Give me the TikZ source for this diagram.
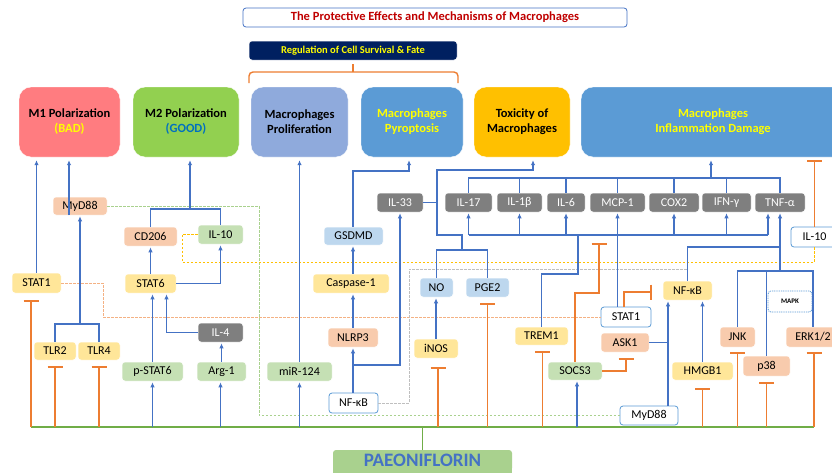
\documentclass[tikz,border=0pt]{standalone}
\usepackage{fontspec}
\setmainfont{Carlito}
\usetikzlibrary{arrows.meta,calc}
\definecolor{cM1}{HTML}{FF7C80}
\definecolor{cM2}{HTML}{92D050}
\definecolor{cPro}{HTML}{8FAADC}
\definecolor{cPyr}{HTML}{5B9BD5}
\definecolor{cTox}{HTML}{FFC000}
\definecolor{cYel}{HTML}{FFE699}
\definecolor{cOra}{HTML}{F8CBAD}
\definecolor{cGrn}{HTML}{C5E0B4}
\definecolor{cLbl}{HTML}{BDD7EE}
\definecolor{cGry}{HTML}{7F7F7F}
\definecolor{cNavy}{HTML}{002060}
\definecolor{cYT}{HTML}{FFFF00}
\definecolor{cGood}{HTML}{0070C0}
\definecolor{cRed}{HTML}{C00000}
\definecolor{cBlue}{HTML}{4472C4}
\definecolor{cBord}{HTML}{5B9BD5}
\definecolor{cOrg}{HTML}{ED7D31}
\definecolor{cGL}{HTML}{70AD47}
\definecolor{cPae}{HTML}{A9D18E}
\definecolor{cYD}{HTML}{FFC000}
\definecolor{cGD}{HTML}{A9D18E}
\definecolor{cKD}{HTML}{BFBFBF}
\definecolor{cOD}{HTML}{F4B183}
\tikzset{
 sbox/.style={rounded corners=3pt, inner sep=0pt, font=\fontsize{12}{14}\selectfont, draw=white, line width=0.5pt},
 ybox/.style={sbox, fill=cYel},
 obox/.style={sbox, fill=cOra},
 gbox/.style={sbox, fill=cGrn},
 bbox/.style={sbox, fill=cLbl},
 kbox/.style={sbox, fill=cGry, text=white},
 wbox/.style={sbox, fill=white, draw=cBord, line width=0.8pt},
 tbox/.style={rounded corners=12pt, inner sep=0pt, align=center, font=\bfseries\fontsize{12.5}{15}\selectfont, draw=white},
 ln/.style={draw=cBlue, line width=1.5pt},
 arr/.style={ln, -{Latex[length=5pt,width=4.5pt]}, shorten >=1pt},
 inh/.style={draw=cOrg, line width=1.5pt, -{Bar[width=15pt,line width=1.7pt]}},
 gln/.style={draw=cGL, line width=1.5pt},
 dsh/.style={line width=1pt, dash pattern=on 2.5pt off 1.5pt},
 gdash/.style={dsh, draw=cGD},
 odash/.style={dsh, draw=cOD},
 ydash/.style={dsh, draw=cYD},
 kdash/.style={dsh, draw=cKD},
}
\newcommand\bx[7]{\node[#6, minimum width={(#4-#2)*1pt}, minimum height={(#5-#3)*1pt}] (#1) at ({(#2+#4)/2},{(#3+#5)/2}) {#7};}
\newcommand\inhb[3]{\draw[inh] ($(#1.south |- busL)+(#2,0)$) -- ($(#1.south)+(#2,#3)$);}
\newcommand\busarr[2]{\draw[arr] ($(#1.south |- busL)+(#2,0)$) -- ($(#1.south)+(#2,0)$);}
\begin{document}
\begin{tikzpicture}[x=1pt,y=-1pt]
\useasboundingbox (0,0) rectangle (832,472);
\fill[white] (0,0) rectangle (832,472);
% title and group
\bx{title}{243}{8}{627}{27}{wbox, draw=cBlue, font=\bfseries\fontsize{12.5}{14}\selectfont, text=cRed}{The Protective Effects and Mechanisms of Macrophages}
\bx{reg}{249}{41}{457}{60}{sbox, fill=cNavy, text=cYT, font=\bfseries\fontsize{10.5}{12}\selectfont}{Regulation of Cell Survival \& Fate}
\draw[draw=cOrg, line width=1.4pt, rounded corners=4pt] (249,83) -- (249,72) -- (458,72) -- (458,83);
\draw[draw=cOrg, line width=1.4pt] (353,72) -- (353,64);
% top boxes
\bx{m1}{19}{87}{120}{157}{tbox, fill=cM1}{M1 Polarization\\{\color{cYT}(BAD)}}
\bx{m2}{133}{87}{239}{157}{tbox, fill=cM2}{M2 Polarization\\{\color{cGood}(GOOD)}}
\bx{prol}{251}{87}{348}{157}{tbox, fill=cPro}{Macrophages\\Proliferation}
\bx{pyro}{361}{87}{463}{157}{tbox, fill=cPyr, text=cYT}{Macrophages\\Pyroptosis}
\bx{tox}{474}{87}{570}{157}{tbox, fill=cTox}{Toxicity of\\Macrophages}
\bx{infl}{581}{87}{845}{157}{tbox, fill=cPyr, text=cYT}{Macrophages\\Inflammation Damage}
% left
\bx{mydl}{53}{197}{107}{215}{obox}{MyD88}
\bx{stat1l}{12}{273}{61}{293}{ybox}{STAT1}
\bx{tlr2}{34}{342}{76}{360}{ybox}{TLR2}
\bx{tlr4}{78}{342}{120}{360}{ybox}{TLR4}
\bx{cd206}{124}{227}{177}{246}{obox}{CD206}
\bx{il10l}{198}{225}{243}{244}{gbox}{IL-10}
\bx{stat6}{125}{274}{176}{293}{ybox}{STAT6}
\bx{il4}{198}{323}{243}{342}{kbox}{IL-4}
\bx{pstat6}{122}{362}{183}{381}{gbox}{p-STAT6}
\bx{arg1}{197}{362}{246}{381}{gbox}{Arg-1}
\bx{mir}{267}{362}{332}{381}{gbox}{miR-124}
% middle
\bx{il33}{377}{193}{423}{212}{kbox}{IL-33}
\bx{gsdmd}{324}{227}{383}{245}{bbox}{GSDMD}
\bx{casp}{313}{274}{389}{293}{ybox}{Caspase-1}
\bx{nlrp3}{328}{328}{378}{347}{obox}{NLRP3}
\bx{nfkbl}{329}{393}{378}{413}{wbox}{NF-κB}
\bx{no}{420}{278}{453}{297}{bbox}{NO}
\bx{pge2}{466}{278}{509}{297}{bbox}{PGE2}
\bx{inos}{414}{339}{458}{358}{ybox}{iNOS}
% cytokines
\bx{il17}{445}{193}{492}{212}{kbox}{IL-17}
\bx{il1b}{497}{193}{542}{212}{kbox}{IL-1β}
\bx{il6}{547}{193}{585}{212}{kbox}{IL-6}
\bx{mcp1}{590}{193}{645}{212}{kbox}{MCP-1}
\bx{cox2}{649}{193}{699}{212}{kbox}{COX2}
\bx{ifng}{702}{193}{751}{212}{kbox}{IFN-γ}
\bx{tnfa}{755}{193}{805}{212}{kbox}{TNF-α}
\bx{il10r}{791}{227}{838}{247}{wbox}{IL-10}
% right
\bx{trem1}{515}{327}{568}{345}{ybox}{TREM1}
\bx{socs3}{548}{362}{602}{380}{gbox}{SOCS3}
\bx{stat1r}{601}{307}{651}{327}{wbox}{STAT1}
\bx{nfkbr}{663}{281}{712}{300}{ybox}{NF-κB}
\bx{ask1}{601}{333}{649}{352}{obox}{ASK1}
\bx{mydr}{620}{406}{678}{425}{wbox}{MyD88}
\bx{hmgb1}{672}{362}{733}{380}{ybox}{HMGB1}
\bx{jnk}{720}{327}{755}{347}{obox}{JNK}
\bx{p38}{743}{356}{790}{376}{obox}{p38}
\bx{erk}{786}{327}{840}{347}{obox}{ERK1/2}
\bx{mapk}{768}{291}{812}{312}{wbox, dash pattern=on 1pt off 0.8pt, font=\bfseries\fontsize{7}{8}\selectfont}{MAPK}
\fill[cPae] (333,462) rectangle (512,474);
\bx{paeo}{333}{450}{512}{471}{sbox, draw=none, fill=cPae, text=cBlue, font=\bfseries\fontsize{19}{20}\selectfont}{PAEONIFLORIN}
% coordinates
\coordinate (busL) at (31,427);
\coordinate (busR) at (814,427);
% dashed links
\coordinate (gd1) at (259,415.5);
\draw[gdash] (mydl.east) -| (gd1) -- (mydr.west);
\coordinate (od1) at (103,317);
\draw[odash] (stat1l.east) -| (od1) -- (od1 -| stat1r.west);
\coordinate (yd1) at (182,262);
\coordinate (yd2) at (814.5,262);
\draw[ydash] (il10l.west) -| (yd1) -- (yd2) -- (il10r.south);
\coordinate (gy1) at (409,269);
\draw[kdash] (nfkbl.east) -| (gy1) -- (gy1 -| nfkbr.north);
% bus
\draw[gln] (busL) -- (busR);
\draw[gln] (paeo.north) -- (paeo.north |- busL);
% M1
\draw[arr, shorten >=3pt] (stat1l.north) -- (stat1l.north |- m1.south);
\coordinate (m1b) at (69,215);
\draw[arr, shorten >=3pt] (m1b) -- (m1b |- m1.south);
\coordinate (tj) at (80,324);
\draw[ln] (tlr2.north) |- (tj) -| (tlr4.north);
\draw[arr] (tj) -- (tj |- mydl.south);
% M2
\coordinate (m2j) at (190,209);
\draw[ln] (cd206.north) |- (m2j) -| (il10l.north);
\draw[arr, shorten >=3pt] (m2j) -- (m2j |- m2.south);
\draw[arr] (stat6.north) -- (cd206.south);
\draw[arr] (stat6.east) -| (il10l.south);
\draw[arr] (pstat6.north) -- (pstat6.north |- stat6.south);
\draw[arr] (il4.west) -| ($(stat6.south)+(16,0)$);
\draw[arr] (arg1.north) -- (arg1.north |- il4.south);
\draw[arr, shorten >=3pt] (mir.north) -- (mir.north |- prol.south);
% pyroptosis
\draw[arr] (nlrp3.south |- nfkbl.north) -- (nlrp3.south);
\draw[arr] (nlrp3.north) -- (nlrp3.north |- casp.south);
\draw[arr] (casp.north -| nlrp3.north) -- (nlrp3.north |- gsdmd.south);
\coordinate (nj) at (353,365);
\draw[arr] (nj) -| (il33.south);
\coordinate (pyj) at (409,171);
\draw[arr, shorten >=3pt] (gsdmd.north -| nlrp3.north) |- (pyj) -- (pyj |- pyro.south);
% toxicity
\coordinate (tx1) at (437,170);
\coordinate (tx2) at (437,235);
\coordinate (tx3) at (462,235);
\coordinate (tx4) at (462,250);
\coordinate (tx5) at (533,170);
\draw[ln] (no.north) |- (tx4) -| (pge2.north);
\draw[arr, shorten >=3pt] (tx4) -- (tx3) -- (tx2) -- (tx1) -- (tx5) -- (tx5 |- tox.south);
\draw[ln] (il33.east) -- (il33.east -| tx1);
\draw[arr] (inos.north) -- (inos.north |- no.south);
% cytokines
\coordinate (ctop) at (711,178);
\draw[ln] (il17.north) |- (ctop) -| (tnfa.north);
\foreach \n in {il1b,il6,mcp1,cox2,ifng} \draw[ln] (\n.north) -- (\n.north |- ctop);
\draw[arr, shorten >=3pt] (ctop) -- (ctop |- infl.south);
\coordinate (cbot) at (578,235);
\coordinate (tnl) at (768,235);
\draw[ln] (il17.south |- cbot) -- (tnl);
\foreach \n in {il17,il1b,il6,cox2,ifng} \draw[arr] (\n.south |- cbot) -- (\n.south);
\draw[arr] (tnl) -- (tnl |- tnfa.south);
\coordinate (tr1) at (578,274);
\draw[ln] (trem1.north) |- (tr1) -- (cbot);
\draw[arr] (mcp1.south |- stat1r.north) -- (mcp1.south);
% SOCS3
\coordinate (s2) at (599,293);
\coordinate (s1) at (599,243);
\draw[inh] (socs3.north) |- (s2) -- (s1);
\draw[inh] (socs3.east) -| ($(ask1.south)+(1,6)$);
\draw[inh] ($(stat1r.north)+(-2,0)$) |- ($(nfkbr.west)+(-11,1.5)$);
% NF-kB / MAPK
\coordinate (nt) at (780,247);
\coordinate (mj) at (780,271);
\draw[ln] (nfkbr.north) |- (nt);
\draw[ln] (jnk.north) |- (mj) -| (erk.north);
\draw[ln] (p38.north) -- (p38.north |- mj);
\draw[arr, line width=2pt] (mj) -- (mj |- tnfa.south);
\coordinate (mx) at (668,342);
\draw[arr] (mx |- mydr.north) -- (mx |- nfkbr.south);
\draw[ln] (ask1.east) -- (ask1.east -| mx);
\draw[arr] (hmgb1.north) -- (hmgb1.north |- nfkbr.south);
\draw[inh] (il10r.north) -- ($(il10r.north |- infl.south)+(0,3)$);
% bus arrows and inhibitors
\busarr{pstat6}{0}
\busarr{arg1}{-1}
\busarr{mir}{0}
\busarr{socs3}{2}
\inhb{stat1l}{-5.5}{7}
\inhb{tlr2}{0}{6}
\inhb{tlr4}{0}{6}
\inhb{inos}{2}{9}
\inhb{pge2}{0}{6}
\inhb{trem1}{1}{6}
\inhb{hmgb1}{0}{8}
\inhb{jnk}{0}{5}
\inhb{p38}{0}{6}
\inhb{erk}{1}{5}
\end{tikzpicture}
\end{document}
